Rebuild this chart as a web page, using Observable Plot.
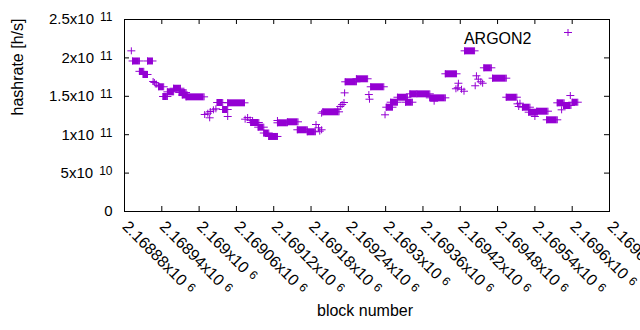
<!DOCTYPE html>
<html><head><meta charset="utf-8">
<script src="https://cdn.jsdelivr.net/npm/d3@7"></script>
<script src="https://cdn.jsdelivr.net/npm/@observablehq/plot@0.6"></script>
<style>body{margin:0;background:#fff;}</style>
</head><body><div id="chart"></div>
<script>
// ---- data ----
const seriesName = "ARGON2";
const xTitle = "block number";
const yTitle = "hashrate [h/s]";

const xTicks = [2168880, 2168940, 2169000, 2169060, 2169120, 2169180, 2169240, 2169300, 2169360, 2169420, 2169480, 2169540, 2169600, 2169660];
const xTickMantissa = ["2.16888x10", "2.16894x10", "2.169x10", "2.16906x10", "2.16912x10", "2.16918x10", "2.16924x10", "2.1693x10", "2.16936x10", "2.16942x10", "2.16948x10", "2.16954x10", "2.1696x10", "2.16966x10"];
const xTickExponent = ["6", "6", "6", "6", "6", "6", "6", "6", "6", "6", "6", "6", "6", "6"];

const yTicks = [0, 5e10, 1e11, 1.5e11, 2e11, 2.5e11];
const yTickMantissa = ["0", "5x10", "1x10", "1.5x10", "2x10", "2.5x10"];
const yTickExponent = ["", "10", "11", "11", "11", "11"];

// runs of consecutive blocks with the same hashrate
const runStart = [2168893, 2168904, 2168910, 2168917, 2168935, 2168942, 2168949, 2168959, 2168968, 2168973, 2168979, 2169029, 2169038, 2169046, 2169083, 2169095, 2169104, 2169112, 2169126, 2169142, 2169158, 2169174, 2169199, 2169235, 2169253, 2169276, 2169301, 2169308, 2169319, 2169332, 2169339, 2169350, 2169371, 2169396, 2169427, 2169458, 2169472, 2169494, 2169520, 2169530, 2169543, 2169559, 2169576, 2169586, 2169600];
const runEnd   = [2168904, 2168911, 2168917, 2168925, 2168943, 2168949, 2168959, 2168970, 2168979, 2168981, 2169008, 2169038, 2169046, 2169073, 2169096, 2169104, 2169112, 2169126, 2169142, 2169159, 2169174, 2169187, 2169225, 2169253, 2169271, 2169297, 2169311, 2169319, 2169335, 2169343, 2169348, 2169371, 2169396, 2169414, 2169443, 2169470, 2169494, 2169511, 2169532, 2169544, 2169561, 2169576, 2169587, 2169598, 2169609];
const runValue = [196.0e9, 182.5e9, 178.4e9, 196.0e9, 162.4e9, 149.7e9, 155.8e9, 160.5e9, 154.9e9, 151.7e9, 149.3e9, 141.9e9, 132.8e9, 141.5e9, 115.9e9, 109.8e9, 102.2e9, 97.7e9, 115.5e9, 116.8e9, 106.4e9, 103.8e9, 129.8e9, 168.9e9, 172.8e9, 162.4e9, 135.8e9, 142.3e9, 148.8e9, 142.3e9, 153.2e9, 153.2e9, 148.0e9, 179.3e9, 209.2e9, 187.1e9, 173.6e9, 148.8e9, 135.8e9, 129.3e9, 130.6e9, 119.4e9, 141.5e9, 138.0e9, 142.3e9];

// isolated blocks
const pointBlock = [2168891, 2168926, 2168928, 2168931, 2168935, 2169009, 2169014, 2169017, 2169018, 2169023, 2169027, 2169046, 2169074, 2169078, 2169082, 2169086, 2169126, 2169188, 2169192, 2169194, 2169197, 2169197, 2169223, 2169227, 2169230, 2169233, 2169234, 2169273, 2169274, 2169299, 2169378, 2169413, 2169416, 2169417, 2169422, 2169426, 2169444, 2169446, 2169449, 2169453, 2169456, 2169512, 2169514, 2169516, 2169540, 2169583, 2169597];
const pointValue = [209.2e9, 169.3e9, 168.0e9, 166.0e9, 164.0e9, 126.3e9, 128.0e9, 122.0e9, 130.2e9, 132.4e9, 133.7e9, 123.7e9, 120.2e9, 122.4e9, 119.1e9, 118.5e9, 118.5e9, 113.3e9, 109.0e9, 104.6e9, 106.4e9, 128.0e9, 133.2e9, 136.7e9, 139.3e9, 141.9e9, 154.5e9, 152.3e9, 146.2e9, 125.9e9, 143.6e9, 159.8e9, 161.1e9, 167.0e9, 159.2e9, 156.6e9, 163.7e9, 176.7e9, 172.3e9, 168.9e9, 167.0e9, 140.2e9, 136.7e9, 141.0e9, 123.7e9, 132.4e9, 151.0e9];

// ---- chart ----
const color = "#9400d3";
const W = 640, H = 330, mL = 124, mR = 31, mT = 19, mB = 119;
const innerW = W - mL - mR, innerH = H - mT - mB;
const tick = 5;

const runs = runStart.map((s, i) => ({s, e: runEnd[i], v: runValue[i]}));
const pts = pointBlock.map((b, i) => ({b, v: pointValue[i]}));

const plus = {draw(ctx) { ctx.moveTo(-4, 0); ctx.lineTo(4, 0); ctx.moveTo(0, -3.5); ctx.lineTo(0, 3.5); }};
const dotOpts = {symbol: plus, stroke: color, fill: "none", strokeWidth: 1, r: 4};

const svg = Plot.plot({
  width: W, height: H,
  marginLeft: mL, marginRight: mR, marginTop: mT, marginBottom: mB,
  style: {fontFamily: "'Liberation Sans', Arial, sans-serif", fontSize: "15px", background: "white", color: "black"},
  x: {domain: [xTicks[0], xTicks[xTicks.length - 1]], axis: null},
  y: {domain: [yTicks[0], yTicks[yTicks.length - 1]], axis: null},
  marks: [
    // inward ticks (bottom/top/left/right)
    Plot.tickX(xTicks, {x: d => d, insetTop: innerH - tick, stroke: "black"}),
    Plot.tickX(xTicks, {x: d => d, insetBottom: innerH - tick, stroke: "black"}),
    Plot.tickY(yTicks, {y: d => d, insetRight: innerW - tick, stroke: "black"}),
    Plot.tickY(yTicks, {y: d => d, insetLeft: innerW - tick, stroke: "black"}),
    // data
    Plot.ruleY(runs, {x1: "s", x2: "e", y: "v", stroke: color, strokeWidth: 7}),
    Plot.dot(runs, {x: "s", y: "v", ...dotOpts}),
    Plot.dot(runs, {x: "e", y: "v", ...dotOpts}),
    Plot.dot(pts, {x: "b", y: "v", ...dotOpts}),
    Plot.frame({stroke: "black"}),
    // tick labels
    Plot.text(yTicks, {y: d => d, frameAnchor: "left", text: (d, i) => yTickMantissa[i], textAnchor: "end", dx: -12, fontSize: 15}),
    Plot.text(xTicks, {x: d => d, frameAnchor: "bottom", text: (d, i) => xTickMantissa[i], textAnchor: "start", lineAnchor: "top", rotate: 45, dx: 5, dy: 8, fontSize: 16}),
    // titles
    Plot.text([yTitle], {text: d => d, frameAnchor: "left", rotate: -90, dx: -107, fontSize: 16}),
    Plot.text([xTitle], {text: d => d, frameAnchor: "bottom", dx: -2, dy: 104, fontSize: 16}),
    // legend
    Plot.text([seriesName], {text: d => d, frameAnchor: "top-right", textAnchor: "end", dx: -(W - mR - 531), dy: 13, fontSize: 16}),
    Plot.dot([seriesName], {frameAnchor: "top-right", dx: -(W - mR - 567.5), dy: 13, ...dotOpts})
  ]
});

// add the superscript exponents to the tick labels as tspans
const expMap = new Map();
yTickMantissa.forEach((m, i) => expMap.set(m, {e: yTickExponent[i], dx: 6, dy: -3}));
xTickMantissa.forEach((m, i) => expMap.set(m, {e: xTickExponent[i], dx: 5, dy: -3}));
Array.from(svg.querySelectorAll("text")).forEach(t => {
  const info = expMap.get(t.textContent);
  if (info && info.e) {
    d3.select(t).append("tspan").attr("dx", info.dx).attr("dy", info.dy).attr("font-size", 12).text(info.e);
  }
});

document.getElementById("chart").appendChild(svg);
</script>
</body></html>
